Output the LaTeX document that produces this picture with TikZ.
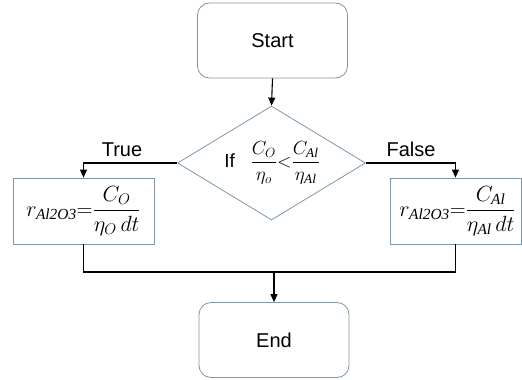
\RequirePackage{fix-cm}
\documentclass[tikz,border=0pt]{standalone}
\usepackage{amsmath}
\usepackage{fontspec}
\setmainfont{Liberation Sans}
\newfontfamily\serifit{Liberation Serif}[Scale=1.0]
\newcommand{\sub}[1]{\text{\serifit\itshape #1}}
\usetikzlibrary{shapes.geometric,arrows.meta}
\definecolor{bordc}{RGB}{125,150,168}
\begin{document}
\begin{tikzpicture}[x=1pt,y=-1pt,
  term/.style={draw=bordc,line width=0.8pt,rounded corners=12pt,minimum width=150pt,minimum height=75pt,inner sep=0pt,font=\fontsize{20}{24}\selectfont},
  proc/.style={draw=bordc,line width=0.8pt,minimum height=66pt,inner sep=0pt},
  dec/.style={draw=bordc,line width=0.8pt,diamond,minimum width=188pt,minimum height=114pt,inner sep=0pt},
  lbl/.style={font=\fontsize{20}{24}\selectfont,inner sep=0pt},
  conn/.style={line width=1.1pt,black},
  arr/.style={conn,-{Triangle[width=7pt,length=8pt]}}]
\useasboundingbox (0,0) rectangle (522,380);
\node[term] (S) at (272.5,40.5) {Start};
\node[dec] (D) at (271.5,163) {};
\node[inner sep=0pt] (DT) at (272,163) {\fontsize{19}{23}\selectfont If\;\; $\displaystyle\frac{C_O}{\eta_o}{<}\frac{C_{\sub{Al}}}{\eta_{\sub{Al}}}$};
\node[proc,minimum width=141pt] (L) at (83.5,211) {\fontsize{22}{26}\selectfont $\displaystyle r_{\sub{Al2O3}}{=}\frac{C_O}{\eta_O\, dt}$};
\node[proc,minimum width=131pt] (R) at (455.5,211) {\fontsize{22}{26}\selectfont \hspace*{4pt}$\displaystyle r_{\sub{Al2O3}}{=}\frac{C_{\sub{Al}}}{\eta_{\sub{Al}}\, dt}$};
\node[term] (E) at (274,340) {End};
\node[lbl] (T) at (122,150) {True};
\node[lbl] (F) at (411,149) {False};
\coordinate (M) at (274,272);
\draw[arr] (S.south) -- (D.north);
\draw[arr] (D.west) -| (L.north);
\draw[arr] (D.east) -| (R.north);
\draw[conn] (L.south) |- (M) -| (R.south);
\draw[arr] (M) -- (E.north);
\end{tikzpicture}
\end{document}
